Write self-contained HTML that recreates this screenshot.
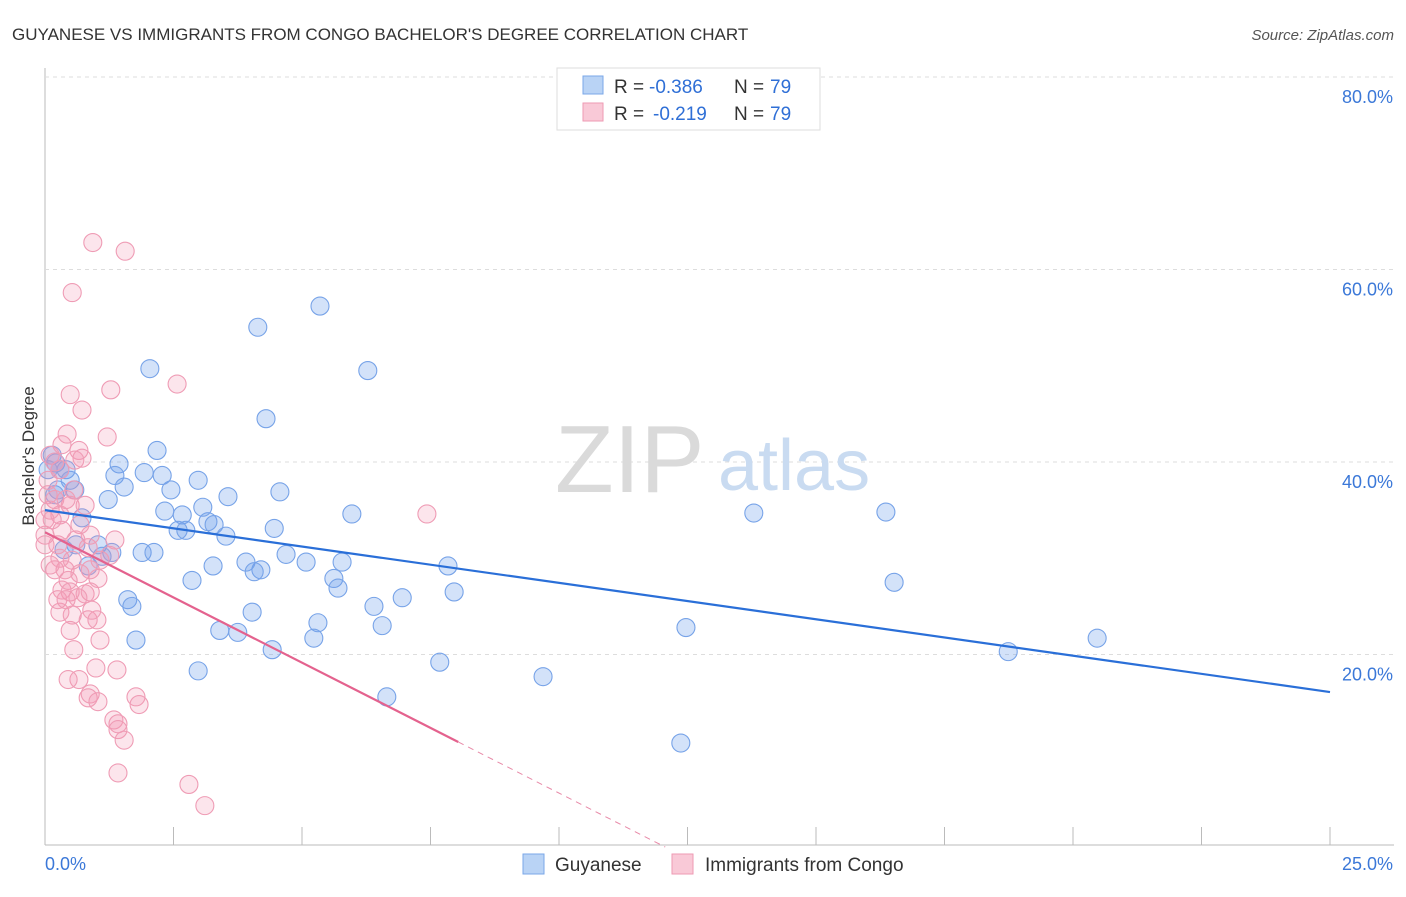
<!DOCTYPE html>
<html><head><meta charset="utf-8"><style>
body{margin:0;background:#fff;font-family:"Liberation Sans",sans-serif;}
svg text{font-family:"Liberation Sans",sans-serif;}
</style></head><body>
<svg id="chart" width="1406" height="892">
<text x="12" y="40" font-size="17" fill="#333">GUYANESE VS IMMIGRANTS FROM CONGO BACHELOR'S DEGREE CORRELATION CHART</text>
<text x="1394" y="40" font-size="15" fill="#555" font-style="italic" text-anchor="end">Source: ZipAtlas.com</text>
<g id="grid"></g>
<text x="555" y="492" font-size="96" fill="#dadada" font-family="Liberation Serif">ZIP</text>
<text x="718" y="490" font-size="72" fill="#c9dbf1">atlas</text>
<g id="pts"></g>
<g id="lines"></g>
<text x="34" y="456" font-size="17" fill="#333" text-anchor="middle" transform="rotate(-90 34 456)">Bachelor's Degree</text>
<g>
<rect x="557" y="68" width="263" height="62" fill="#fff" stroke="#ddd"/>
<rect x="583" y="76" width="20" height="18" fill="#b9d3f5" stroke="#7aa7e8"/>
<text x="614" y="93" font-size="19" fill="#333">R =</text>
<text x="649" y="93" font-size="19" fill="#2f6fd6">-0.386</text>
<text x="734" y="93" font-size="19" fill="#333">N =</text>
<text x="770" y="93" font-size="19" fill="#2f6fd6">79</text>
<rect x="583" y="103" width="20" height="18" fill="#f9c9d7" stroke="#ee9ab3"/>
<text x="614" y="120" font-size="19" fill="#333">R =</text>
<text x="653" y="120" font-size="19" fill="#2f6fd6">-0.219</text>
<text x="734" y="120" font-size="19" fill="#333">N =</text>
<text x="770" y="120" font-size="19" fill="#2f6fd6">79</text>
</g>
<g>
<rect x="523" y="854" width="21" height="20" fill="#b9d3f5" stroke="#7aa7e8"/>
<text x="555" y="871" font-size="19" fill="#333">Guyanese</text>
<rect x="672" y="854" width="21" height="20" fill="#f9c9d7" stroke="#ee9ab3"/>
<text x="705" y="871" font-size="19" fill="#333">Immigrants from Congo</text>
</g>
</svg>
<script>
const blueX=[5.35,4.14,2.04,6.28,4.30,2.18,0.14,1.44,1.36,2.28,1.93,0.41,2.98,1.54,4.57,2.45,3.56,1.23,3.07,2.33,5.97,13.79,16.36,0.72,2.67,3.17,3.29,2.59,2.74,4.46,3.52,0.60,1.03,1.30,1.89,2.12,4.69,3.91,5.08,5.78,3.27,4.20,4.07,7.84,0.84,5.62,2.86,5.70,16.52,7.96,6.95,1.61,1.69,6.40,4.03,5.31,12.47,3.40,3.75,6.56,1.77,5.23,20.47,4.42,18.74,7.68,2.98,9.69,6.65,12.37,0.21,0.29,0.25,0.49,0.19,0.58,0.06,1.11,0.37];
const blueY=[56.2,54.0,49.7,49.5,44.5,41.2,40.7,39.8,38.6,38.6,38.9,39.2,38.1,37.4,36.9,37.1,36.4,36.1,35.3,34.9,34.6,34.7,34.8,34.2,34.5,33.8,33.5,32.9,32.9,33.1,32.3,31.4,31.4,30.6,30.6,30.6,30.4,29.6,29.6,29.6,29.2,28.8,28.6,29.2,29.2,27.9,27.7,26.9,27.5,26.5,25.9,25.7,25.0,25.0,24.4,23.3,22.8,22.5,22.3,23.0,21.5,21.7,21.7,20.5,20.3,19.2,18.3,17.7,15.6,10.8,39.9,39.2,37.1,38.1,36.6,37.1,39.2,30.2,30.9];
const pinkX=[0.93,1.56,0.53,2.57,1.28,0.49,0.72,0.43,1.21,0.66,0.72,0.10,0.19,0.29,0.06,0.56,0.19,0.49,0.10,0.29,0,0.33,0.88,0,0.25,1.36,7.43,0.29,0.53,0.39,0.19,0.88,0.68,1.03,0.45,0.33,0.49,0.78,0.88,0.64,0.29,0.53,0.84,1.01,0.56,0.99,1.40,0.66,0.45,0.88,0.84,1.03,1.77,1.83,1.34,1.42,1.42,1.54,1.42,2.80,3.11,0,0.14,0.06,0.58,0.33,0.41,0.68,1.07,1.26,0.25,0.60,0.10,0.84,0.41,0.91,1.07,0.49,0.78];
const pinkY=[62.8,61.9,57.6,48.1,47.5,47.0,45.4,42.9,42.6,41.2,40.4,40.7,40.0,39.2,38.1,37.1,36.1,35.5,35.0,34.5,34.0,32.9,32.4,32.4,31.4,31.9,34.6,30.0,29.8,28.8,28.8,28.8,28.4,27.9,27.7,26.7,26.5,26.3,26.5,25.9,24.4,24.1,23.6,23.6,20.5,18.6,18.4,17.4,17.4,15.9,15.5,15.1,15.6,14.8,13.2,12.8,12.2,11.1,7.7,6.5,4.3,31.4,34.0,36.6,40.2,41.8,36.1,33.5,29.8,30.3,25.7,31.9,29.3,31.1,25.7,24.6,21.5,22.5,35.5];
const yTicks=[20,40,60,80];
const xTickLabels=["0.0%","25.0%"];
const blueFit=[35.0,-0.756];
const pinkFit=[32.7,-2.71];
const NS="http://www.w3.org/2000/svg";
const X0=45,X1=1330,Y0=847,PXY=9.625;
const sx=v=>X0+(v/25)*(X1-X0), sy=v=>Y0-v*PXY;
function mk(tag,at,parent){const e=document.createElementNS(NS,tag);for(const k in at)e.setAttribute(k,at[k]);parent.appendChild(e);return e;}
const grid=document.getElementById('grid');
let ax=mk('line',{x1:45,y1:68,x2:45,y2:845,stroke:'#bbb'},grid);


let bx=mk('line',{x1:45,y1:845,x2:1394,y2:845,stroke:'#bbb'},grid);


yTicks.forEach(t=>{
 const g=mk('line',{x1:45,y1:sy(t),x2:1394,y2:sy(t),stroke:'#ddd','stroke-dasharray':'4,4'},grid);
 
 
 const l=mk('text',{x:1393,y:sy(t)+26,'font-size':18,fill:'#3b78d8','text-anchor':'end'},grid);
 l.textContent=t.toFixed(1)+'%';
 
 
});
for(let i=0;i<=10;i++){
 const tk=mk('line',{x1:sx(i*2.5),y1:827,x2:sx(i*2.5),y2:845,stroke:'#bbb'},grid);
 
 
}
const xl0=mk('text',{x:45,y:870,'font-size':18,fill:'#3b78d8'},grid);xl0.textContent=xTickLabels[0];


const xl1=mk('text',{x:1393,y:870,'font-size':18,fill:'#3b78d8','text-anchor':'end'},grid);xl1.textContent=xTickLabels[1];


const pts=document.getElementById('pts');
blueX.forEach((v,i)=>{const c=mk('circle',{cx:sx(v),cy:sy(blueY[i]),r:9,fill:'rgba(110,160,235,0.3)',stroke:'#77a3e8','stroke-width':1.1},pts);
 
 });
pinkX.forEach((v,i)=>{const c=mk('circle',{cx:sx(v),cy:sy(pinkY[i]),r:9,fill:'rgba(245,150,180,0.25)',stroke:'#ef9cb5','stroke-width':1.1},pts);
 
 });
const lines=document.getElementById('lines');
const bl=mk('line',{x1:sx(0),y1:sy(blueFit[0]),x2:sx(25),y2:sy(blueFit[0]+blueFit[1]*25),stroke:'#2a6fd8','stroke-width':2.2},lines);


const pe=8.04, pz=-pinkFit[0]/pinkFit[1];
const pl=mk('line',{x1:sx(0),y1:sy(pinkFit[0]),x2:sx(pe),y2:sy(pinkFit[0]+pinkFit[1]*pe),stroke:'#e4628e','stroke-width':2.2},lines);


const pd=mk('line',{x1:sx(pe),y1:sy(pinkFit[0]+pinkFit[1]*pe),x2:sx(pz),y2:sy(0),stroke:'#e88aa8','stroke-width':1,'stroke-dasharray':'6,5'},lines);


</script>
</body></html>
